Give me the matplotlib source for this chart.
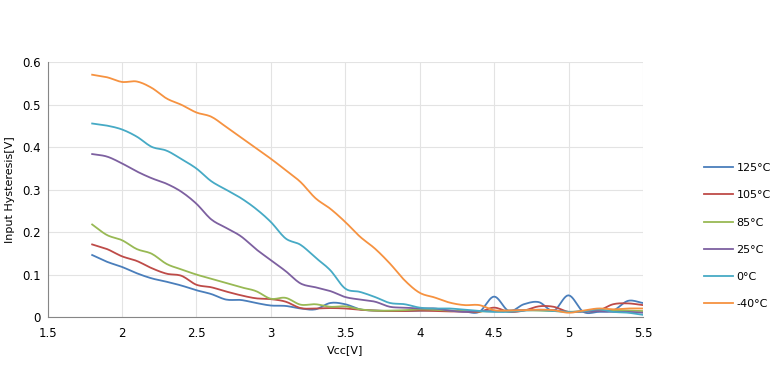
import numpy as np
import matplotlib
matplotlib.use("Agg")
import matplotlib.pyplot as plt

vcc = [round(1.8 + 0.1 * i, 1) for i in range(38)]

t125 = [0.146, 0.130, 0.118, 0.103, 0.091, 0.083, 0.074, 0.063, 0.054, 0.041,
        0.040, 0.033, 0.027, 0.026, 0.020, 0.018, 0.033, 0.030, 0.018, 0.015,
        0.014, 0.014, 0.015, 0.016, 0.015, 0.013, 0.012, 0.048, 0.014, 0.030,
        0.035, 0.015, 0.051, 0.012, 0.012, 0.015, 0.038, 0.033]
t105 = [0.171, 0.160, 0.143, 0.132, 0.115, 0.102, 0.097, 0.076, 0.070, 0.060,
        0.051, 0.044, 0.042, 0.036, 0.021, 0.020, 0.021, 0.020, 0.017, 0.015,
        0.014, 0.014, 0.015, 0.014, 0.013, 0.013, 0.012, 0.022, 0.012, 0.015,
        0.025, 0.024, 0.012, 0.013, 0.015, 0.030, 0.032, 0.028]
t85 = [0.218, 0.193, 0.181, 0.160, 0.149, 0.125, 0.112, 0.100, 0.090, 0.080,
       0.070, 0.061, 0.043, 0.045, 0.029, 0.030, 0.024, 0.025, 0.018, 0.015,
       0.015, 0.016, 0.018, 0.017, 0.015, 0.014, 0.013, 0.014, 0.015, 0.016,
       0.015, 0.014, 0.012, 0.014, 0.015, 0.016, 0.015, 0.014]
t25 = [0.384, 0.378, 0.362, 0.343, 0.327, 0.314, 0.295, 0.267, 0.230, 0.210,
       0.190, 0.160, 0.134, 0.108, 0.079, 0.070, 0.061, 0.047, 0.041, 0.036,
       0.024, 0.022, 0.020, 0.020, 0.015, 0.012, 0.014, 0.013, 0.015, 0.016,
       0.017, 0.016, 0.012, 0.013, 0.014, 0.012, 0.012, 0.010]
t0 = [0.456, 0.451, 0.442, 0.425, 0.401, 0.392, 0.372, 0.350, 0.320, 0.300,
      0.280, 0.255, 0.224, 0.185, 0.170, 0.140, 0.110, 0.067, 0.059, 0.047,
      0.033, 0.030, 0.022, 0.020, 0.020, 0.017, 0.014, 0.012, 0.012, 0.015,
      0.016, 0.014, 0.012, 0.013, 0.018, 0.012, 0.010, 0.005]
tm40 = [0.571, 0.565, 0.554, 0.555, 0.540, 0.515, 0.500, 0.482, 0.472, 0.448,
        0.423, 0.398, 0.373, 0.346, 0.318, 0.280, 0.255, 0.224, 0.189, 0.161,
        0.126, 0.086, 0.057, 0.046, 0.034, 0.028, 0.028, 0.016, 0.015, 0.016,
        0.017, 0.016, 0.010, 0.015, 0.020, 0.018, 0.020, 0.020]

labels = ["125°C", "105°C", "85°C", "25°C", "0°C", "-40°C"]
series = [t125, t105, t85, t25, t0, tm40]
colors = ["#4A7EBB", "#BE4B48", "#98B954", "#7D60A0", "#46AAC5", "#F69240"]


def smooth(x, y, n=10):
    x = np.asarray(x, float); y = np.asarray(y, float)
    px = np.concatenate([[2 * x[0] - x[1]], x, [2 * x[-1] - x[-2]]])
    py = np.concatenate([[2 * y[0] - y[1]], y, [2 * y[-1] - y[-2]]])
    xs, ys = [], []
    t = np.linspace(0, 1, n, endpoint=False)
    for i in range(1, len(px) - 2):
        for arr, out in ((px, xs), (py, ys)):
            p0, p1, p2, p3 = arr[i - 1], arr[i], arr[i + 1], arr[i + 2]
            out.extend(0.5 * ((2 * p1) + (-p0 + p2) * t
                              + (2 * p0 - 5 * p1 + 4 * p2 - p3) * t ** 2
                              + (-p0 + 3 * p1 - 3 * p2 + p3) * t ** 3))
    xs.append(x[-1]); ys.append(y[-1])
    return np.array(xs), np.array(ys)


plt.rcParams['font.family'] = ['DejaVu Sans']
fig = plt.figure(figsize=(7.7, 3.76), dpi=100)
ax = fig.add_axes([0.0617, 0.157, 0.7733, 0.677])

for lab, s, c in zip(labels, series, colors):
    xs, ys = smooth(vcc, s)
    ax.plot(xs, ys, color=c, lw=1.3, label=lab)

ax.set_xlim(1.5, 5.5)
ax.set_ylim(0, 0.6)
ax.set_xticks([1.5, 2, 2.5, 3, 3.5, 4, 4.5, 5, 5.5])
ax.set_xticklabels(["1.5", "2", "2.5", "3", "3.5", "4", "4.5", "5", "5.5"])
ax.set_yticks([0, 0.1, 0.2, 0.3, 0.4, 0.5, 0.6])
ax.set_yticklabels(["0", "0.1", "0.2", "0.3", "0.4", "0.5", "0.6"])
ax.grid(True, color="#E3E3E3", lw=0.8)
ax.set_axisbelow(True)
for sp in ["top", "right"]:
    ax.spines[sp].set_visible(False)
for sp in ["left", "bottom"]:
    ax.spines[sp].set_color("#868686")
ax.tick_params(axis="x", length=0, labelsize=8.5, pad=7)
ax.tick_params(axis="y", length=0, labelsize=8.5, pad=5)
ax.set_xlabel("Vcc[V]", fontsize=8, labelpad=4)
ax.set_ylabel("Input Hysteresis[V]", fontsize=8, labelpad=5)

fig.legend(loc="center left", bbox_to_anchor=(0.909, 0.372), frameon=False,
           fontsize=8.0, handlelength=2.6, labelspacing=1.55, handletextpad=0.3,
           borderaxespad=0)

fig.savefig("out.png", dpi=100)
